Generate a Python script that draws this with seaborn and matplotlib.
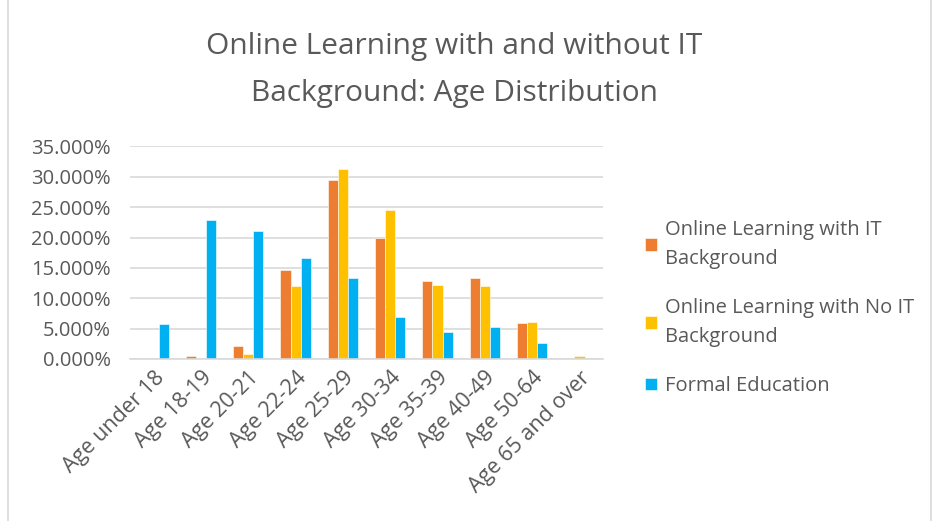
import pandas as pd
import matplotlib.pyplot as plt
import seaborn as sns
from matplotlib.patches import Rectangle
from matplotlib.ticker import FuncFormatter

# Datos (porcentajes)
categories = ["Age under 18", "Age 18-19", "Age 20-21", "Age 22-24", "Age 25-29",
              "Age 30-34", "Age 35-39", "Age 40-49", "Age 50-64", "Age 65 and over"]
series_names = ["Online Learning with IT Background",
                "Online Learning with No IT Background",
                "Formal Education"]
with_it = [0.0, 0.44, 2.14, 14.7, 29.5, 19.9, 12.8, 13.3, 5.98, 0.22]
no_it = [0.0, 0.0, 0.77, 11.97, 31.3, 24.5, 12.2, 11.97, 6.09, 0.49]
formal = [5.76, 22.8, 21.1, 16.6, 13.4, 6.97, 4.5, 5.2, 2.7, 0.22]
legend_labels = ["Online Learning with IT\nBackground",
                 "Online Learning with No IT\nBackground",
                 "Formal Education"]

df = pd.DataFrame({
    "Age": categories * 3,
    "Serie": [series_names[0]] * 10 + [series_names[1]] * 10 + [series_names[2]] * 10,
    "Valor": with_it + no_it + formal,
})

sns.set_style("white")
plt.rcParams["font.family"] = ["Open Sans", "DejaVu Sans"]
text_color = "#595959"

fig = plt.figure(figsize=(9.37, 5.21), dpi=100)
ax = fig.add_axes([0.1387, 0.311, 0.505, 0.408])

sns.barplot(data=df, x="Age", y="Valor", hue="Serie", order=categories,
            hue_order=series_names, palette=["#ED7D31", "#FFC000", "#00B0F0"],
            saturation=1, width=0.64, edgecolor="white", linewidth=0.4, ax=ax)

ax.set_ylim(0, 35)
ax.set_yticks(range(0, 36, 5))
ax.yaxis.set_major_formatter(FuncFormatter(lambda v, p: f"{v:.3f}%"))
ax.grid(axis="y", color="#D9D9D9", linewidth=1.2)
ax.set_axisbelow(True)
for s in ["top", "right", "left"]:
    ax.spines[s].set_visible(False)
ax.spines["bottom"].set_color("#D9D9D9")
ax.spines["bottom"].set_linewidth(1.2)
ax.tick_params(length=0, colors=text_color, labelsize=14.5)
ax.tick_params(axis="y", pad=14)
ax.tick_params(axis="x", pad=6, labelsize=15.5)
plt.setp(ax.get_xticklabels(), rotation=45, ha="right", rotation_mode="anchor")
ax.set_xlabel("")
ax.set_ylabel("")

handles, _ = ax.get_legend_handles_labels()
leg = ax.legend(handles, legend_labels, loc="center left", bbox_to_anchor=(1.05, 0.24),
                frameon=False, fontsize=14.5, labelcolor=text_color,
                handlelength=0.6, handleheight=0.6, handletextpad=0.4, labelspacing=1.45)
for t in leg.get_texts():
    t.set_linespacing(1.6)

fig.text(0.485, 0.866, "Online Learning with and without IT\nBackground: Age Distribution",
         ha="center", va="center", fontsize=21.5, color=text_color, linespacing=1.8)

fig.patches.append(Rectangle((0.009, -0.01), 0.985, 1.02, transform=fig.transFigure,
                             fill=False, edgecolor="#D9D9D9", linewidth=1.2))

fig.savefig("out.png", dpi=100)
